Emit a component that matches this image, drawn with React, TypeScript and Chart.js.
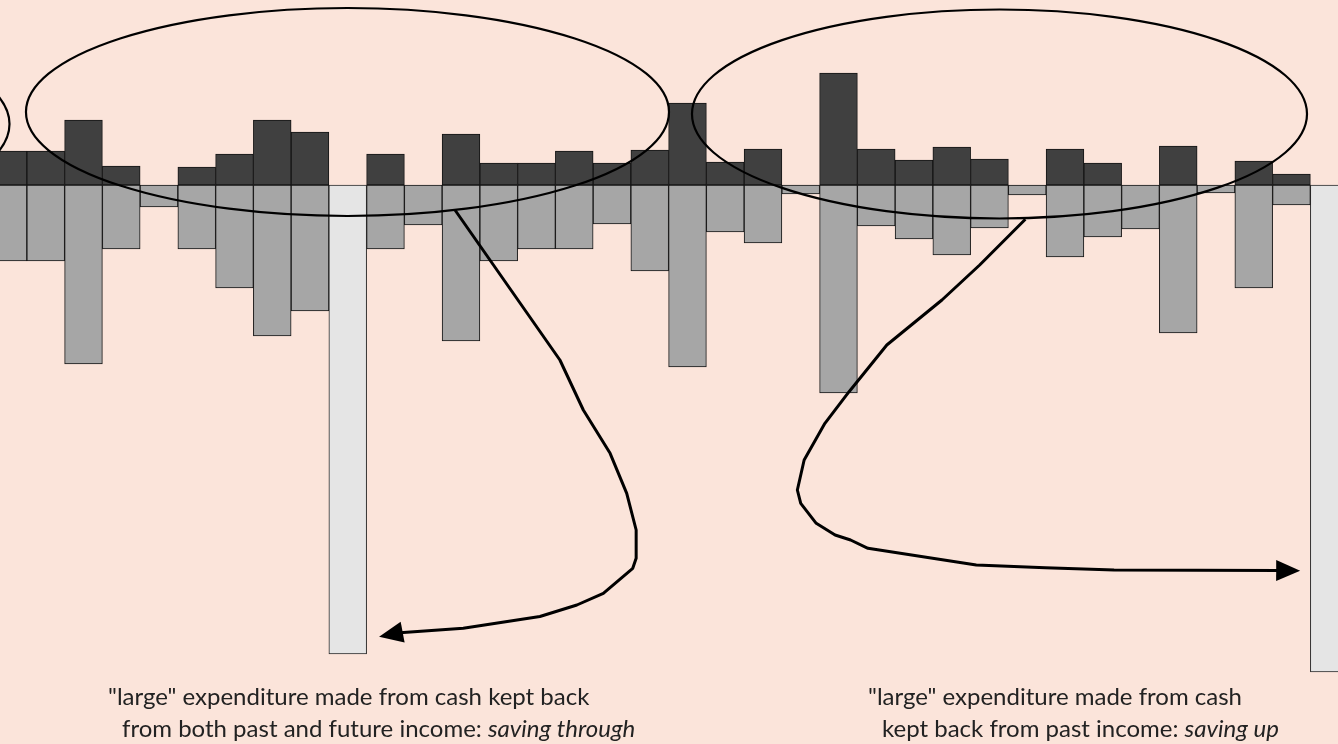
import React, { useEffect, useRef } from "react";
import { Chart, registerables } from "chart.js";

Chart.register(...registerables);

// Period numbers (x categories)
const periods = [
  1, 2, 3, 4, 5, 6, 7, 8, 9, 10, 11, 12, 13, 14, 15, 16, 17, 18,
  19, 20, 21, 22, 23, 24, 25, 26, 27, 28, 29, 30, 31, 32, 33, 34, 35, 36,
];

// Income received each period (dark bars, above the line)
const income = [
  3.4, 3.4, 6.5, 1.9, null, 1.8, 3.1, 6.5, 5.3, null, 3.1, null,
  5.1, 2.2, 2.2, 3.4, 2.2, 3.5, 8.2, 2.3, 3.6, null, 11.2, 3.6,
  2.5, 3.8, 2.6, null, 3.6, 2.2, null, 3.9, null, 2.4, 1.1, null,
];

// Ordinary expenditure each period (mid grey bars, below the line)
const spending = [
  -7.6, -7.6, -17.9, -6.4, -2.2, -6.4, -10.3, -15.1, -12.6, null, -6.4, -4.0,
  -15.6, -7.6, -6.4, -6.4, -3.9, -8.6, -18.2, -4.7, -5.8, -0.9, -20.8, -4.1,
  -5.4, -7.0, -4.3, -1.0, -7.2, -5.2, -4.4, -14.8, -0.8, -10.3, -2.0, null,
];

// "Large" expenditure (light bars)
const largeSpending = [
  null, null, null, null, null, null, null, null, null, -46.9, null, null,
  null, null, null, null, null, null, null, null, null, null, null, null,
  null, null, null, null, null, null, null, null, null, null, null, -48.7,
];

// Visible window of the axes (data units)
const xRange = [0.788, 36.232];
const yRange = [-55.9, 18.5];

// Annotation ellipses in data units: [centerX, centerY, radiusX, radiusY]
const ellipseLeft = [-7.172, 6.1, 8.212, 10.4];
const ellipseMiddle = [9.993, 7.3, 8.517, 10.4];
const ellipseRight = [27.265, 7.1, 8.146, 10.45];

// Annotation arrows in data units: [x, y] vertices, last is the tip
const arrowThrough = [
  [12.84, -2.5], [15.62, -17.5], [16.24, -22.5], [16.95, -26.83], [17.39, -30.83],
  [17.64, -34.5], [17.64, -37.33], [17.55, -38.33], [16.77, -40.83], [16.07, -42.0],
  [15.09, -43.15], [13.06, -44.33], [11.38, -44.77], [10.83, -45.17],
];
const arrowUp = [
  [27.95, -3.43], [26.74, -8.0], [25.74, -11.5], [24.28, -16.0], [23.28, -20.67],
  [22.64, -23.83], [22.09, -27.5], [21.91, -30.5], [22.0, -31.83], [22.41, -33.83],
  [22.91, -35.0], [23.32, -35.5], [23.78, -36.33], [26.65, -38.0], [28.48, -38.27],
  [30.3, -38.5], [35.23, -38.57],
];

// Caption text
const captionThrough = [
  ['"large" expenditure made from cash kept back', ""],
  ["from both past and future income: ", "saving through"],
];
const captionUp = [
  ['"large" expenditure made from cash', ""],
  ["kept back from past income: ", "saving up"],
];

const FONT = "Lato, 'Open Sans', sans-serif";

const annotationPlugin = {
  id: "annotations",
  afterDatasetsDraw(chart: any) {
    const ctx = chart.ctx as CanvasRenderingContext2D;
    const xs = chart.scales.x;
    const ys = chart.scales.y;
    const px = (v: number) => xs.getPixelForValue(v);
    const py = (v: number) => ys.getPixelForValue(v);

    ctx.save();
    ctx.strokeStyle = "#000";
    ctx.lineWidth = 2.2;
    for (const e of [ellipseLeft, ellipseMiddle, ellipseRight]) {
      const cx = px(e[0]);
      const cy = py(e[1]);
      const rx = Math.abs(px(e[0] + e[2]) - cx);
      const ry = Math.abs(py(e[1] + e[3]) - cy);
      ctx.beginPath();
      ctx.ellipse(cx, cy, rx, ry, 0, 0, Math.PI * 2);
      ctx.stroke();
    }

    ctx.lineWidth = 3;
    ctx.lineJoin = "round";
    ctx.lineCap = "butt";
    ctx.fillStyle = "#000";
    for (const arrow of [arrowThrough, arrowUp]) {
      const pts = arrow.map((p) => [px(p[0]), py(p[1])]);
      const tip = pts[pts.length - 1];
      const prev = pts[pts.length - 2];
      const dx = tip[0] - prev[0];
      const dy = tip[1] - prev[1];
      const len = Math.hypot(dx, dy);
      const ux = dx / len;
      const uy = dy / len;
      const headLen = 24;
      const headHalf = 10.5;
      const bx = tip[0] - ux * headLen;
      const by = tip[1] - uy * headLen;
      ctx.beginPath();
      ctx.moveTo(pts[0][0], pts[0][1]);
      for (let i = 1; i < pts.length - 1; i++) ctx.lineTo(pts[i][0], pts[i][1]);
      ctx.lineTo(bx + ux * 2, by + uy * 2);
      ctx.stroke();
      ctx.beginPath();
      ctx.moveTo(tip[0], tip[1]);
      ctx.lineTo(bx - uy * headHalf, by + ux * headHalf);
      ctx.lineTo(bx + uy * headHalf, by - ux * headHalf);
      ctx.closePath();
      ctx.fill();
    }
    ctx.restore();
  },
  afterDraw(chart: any) {
    const ctx = chart.ctx as CanvasRenderingContext2D;
    ctx.save();
    ctx.fillStyle = "#222";
    ctx.textBaseline = "alphabetic";
    const size = 24;
    const drawBlock = (lines: string[][], x0: number, indent: number) => {
      lines.forEach((ln, i) => {
        const x = x0 + (i === 0 ? 0 : indent);
        const y = 705 + i * 32;
        ctx.font = `400 ${size}px ${FONT}`;
        ctx.fillText(ln[0], x, y);
        const w = ctx.measureText(ln[0]).width;
        if (ln[1]) {
          ctx.font = `italic 400 ${size}px ${FONT}`;
          ctx.fillText(ln[1], x + w, y);
        }
      });
    };
    drawBlock(captionThrough, 108, 14);
    drawBlock(captionUp, 868, 14);
    ctx.restore();
  },
};

export default function App() {
  const ref = useRef<HTMLCanvasElement>(null);

  useEffect(() => {
    if (!ref.current) return;
    const toPts = (arr: (number | null)[]) =>
      arr.map((v, i) => ({ x: periods[i], y: v }));
    const chart = new Chart(ref.current, {
      type: "bar",
      data: {
        datasets: [
          {
            label: "income",
            data: toPts(income) as any,
            backgroundColor: "#404040",
            borderColor: "#141414",
            borderWidth: 1,
            borderSkipped: false,
          },
          {
            label: "spending",
            data: toPts(spending) as any,
            backgroundColor: "#a6a6a6",
            borderColor: "#141414",
            borderWidth: 1,
            borderSkipped: false,
          },
          {
            label: "large spending",
            data: toPts(largeSpending) as any,
            backgroundColor: "#e5e5e5",
            borderColor: "#2a2a2a",
            borderWidth: 1,
            borderSkipped: false,
          },
        ],
      },
      options: {
        responsive: false,
        animation: false,
        events: [],
        layout: { padding: 0 },
        datasets: {
          bar: { categoryPercentage: 1, barPercentage: 1 },
        },
        plugins: {
          legend: { display: false },
          tooltip: { enabled: false },
          title: { display: false },
        },
        scales: {
          x: {
            type: "linear",
            stacked: true,
            display: false,
            offset: false,
            min: xRange[0],
            max: xRange[1],
            ticks: { includeBounds: false, stepSize: 1 },
          },
          y: {
            type: "linear",
            stacked: true,
            display: false,
            min: yRange[0],
            max: yRange[1],
            ticks: { includeBounds: false },
          },
        },
      },
      plugins: [annotationPlugin],
    });
    return () => chart.destroy();
  }, []);

  return (
    <div
      style={{
        position: "fixed",
        left: 0,
        top: 0,
        width: 1338,
        height: 744,
        overflow: "hidden",
        background: "#fbe4da",
      }}
    >
      <canvas ref={ref} width={1338} height={744} style={{ display: "block" }} />
    </div>
  );
}
